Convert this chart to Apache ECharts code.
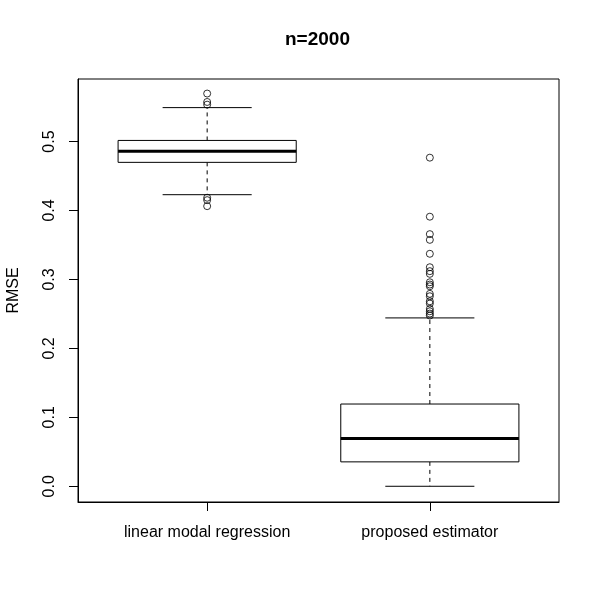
<!DOCTYPE html>
<html>
<head>
<meta charset="utf-8">
<script src="https://cdn.jsdelivr.net/npm/echarts@6/dist/echarts.min.js"></script>
<style>
  html, body { margin: 0; padding: 0; background: #fff; }
  #chart { width: 600px; height: 600px; }
</style>
</head>
<body>
<div id="chart"></div>
<script>
// categories and box statistics: [lower whisker, Q1, median, Q3, upper whisker]
var categories = ['linear modal regression', 'proposed estimator'];
var boxStats = [
    [0.4229, 0.4698, 0.4858, 0.5016, 0.5492],
    [0.0000, 0.0354, 0.0693, 0.1193, 0.2442]
];
// outliers per box
var outliersLinear = [0.5696, 0.5574, 0.5535, 0.4185, 0.4150, 0.4063];
var outliersProposed = [
    0.4766, 0.3910, 0.3657, 0.3574, 0.3372, 0.3177, 0.3120, 0.3081,
    0.2959, 0.2926, 0.2901, 0.2791, 0.2756, 0.2683, 0.2650,
    0.2573, 0.2538, 0.2505, 0.2476
];
var yTicks = [0, 0.1, 0.2, 0.3, 0.4, 0.5];
var xTicks = [1, 2];

var fontFamily = 'Liberation Sans, Arial, sans-serif';

var boxData = boxStats.map(function (s, i) {
    return [i + 1].concat(s);
});
var outlierData = outliersLinear.map(function (v) { return [1, v]; })
    .concat(outliersProposed.map(function (v) { return [2, v]; }));

function renderBox(params, api) {
    var x = api.value(0);
    var lo = api.coord([x, api.value(1)]);
    var q1 = api.coord([x, api.value(2)]);
    var med = api.coord([x, api.value(3)]);
    var q3 = api.coord([x, api.value(4)]);
    var hi = api.coord([x, api.value(5)]);
    var halfBox = api.size([0.8, 0])[0] / 2;
    var halfCap = api.size([0.4, 0])[0] / 2;
    var cx = lo[0];
    var thin = { stroke: '#000', lineWidth: 1, fill: null };
    var dashed = { stroke: '#000', lineWidth: 1, lineDash: [4, 4] };
    return {
        type: 'group',
        children: [
            // whiskers
            { type: 'line', shape: { x1: cx, y1: q3[1], x2: cx, y2: hi[1] }, style: dashed },
            { type: 'line', shape: { x1: cx, y1: q1[1], x2: cx, y2: lo[1] }, style: dashed },
            // caps
            { type: 'line', shape: { x1: cx - halfCap, y1: hi[1], x2: cx + halfCap, y2: hi[1] }, style: thin },
            { type: 'line', shape: { x1: cx - halfCap, y1: lo[1], x2: cx + halfCap, y2: lo[1] }, style: thin },
            // box
            { type: 'rect', shape: { x: cx - halfBox, y: q3[1], width: halfBox * 2, height: q1[1] - q3[1] },
              style: { stroke: '#000', lineWidth: 1, fill: '#fff' } },
            // median
            { type: 'line', shape: { x1: cx - halfBox, y1: med[1], x2: cx + halfBox, y2: med[1] },
              style: { stroke: '#000', lineWidth: 3 } }
        ]
    };
}

var myChart = echarts.init(document.getElementById('chart'));

var option = {
    backgroundColor: '#fff',
    animation: false,
    title: {
        text: 'n=2000',
        left: 285,
        top: 30,
        padding: 0,
        textStyle: { fontFamily: fontFamily, fontSize: 19, fontWeight: 'bold', color: '#000' }
    },
    grid: {
        left: 78, right: 41, top: 79, bottom: 98,
        outerBoundsMode: 'none',
        containLabel: false,
        show: true, borderColor: '#000', borderWidth: 1
    },
    xAxis: {
        type: 'value',
        min: 0.42,
        max: 2.58,
        splitLine: { show: false },
        axisLine: { show: true, onZero: false, lineStyle: { color: '#000' } },
        axisTick: { show: true, length: 9, customValues: xTicks, lineStyle: { color: '#000' } },
        axisLabel: {
            customValues: xTicks,
            margin: 23,
            fontFamily: fontFamily,
            fontSize: 16,
            color: '#000',
            formatter: function (v) { return categories[Math.round(v) - 1]; }
        }
    },
    yAxis: {
        type: 'value',
        min: -0.0228,
        max: 0.5907,
        name: 'RMSE',
        nameLocation: 'middle',
        nameRotate: 90,
        nameGap: 56,
        nameTextStyle: { fontFamily: fontFamily, fontSize: 16, color: '#000' },
        splitLine: { show: false },
        axisLine: { show: true, onZero: false, lineStyle: { color: '#000' } },
        axisTick: { show: true, length: 9, customValues: yTicks, lineStyle: { color: '#000' } },
        axisLabel: {
            customValues: yTicks,
            rotate: 90,
            margin: 20,
            fontFamily: fontFamily,
            fontSize: 16,
            color: '#000',
            formatter: function (v) { return v.toFixed(1); }
        }
    },
    series: [
        {
            type: 'custom',
            renderItem: renderBox,
            data: boxData,
            encode: { x: 0, y: [1, 2, 3, 4, 5] },
            z: 2
        },
        {
            type: 'scatter',
            data: outlierData,
            symbol: 'circle',
            symbolSize: 7,
            itemStyle: { color: 'rgba(0,0,0,0)', borderColor: '#000', borderWidth: 1 },
            z: 3
        }
    ]
};
myChart.setOption(option);
</script>
</body>
</html>
